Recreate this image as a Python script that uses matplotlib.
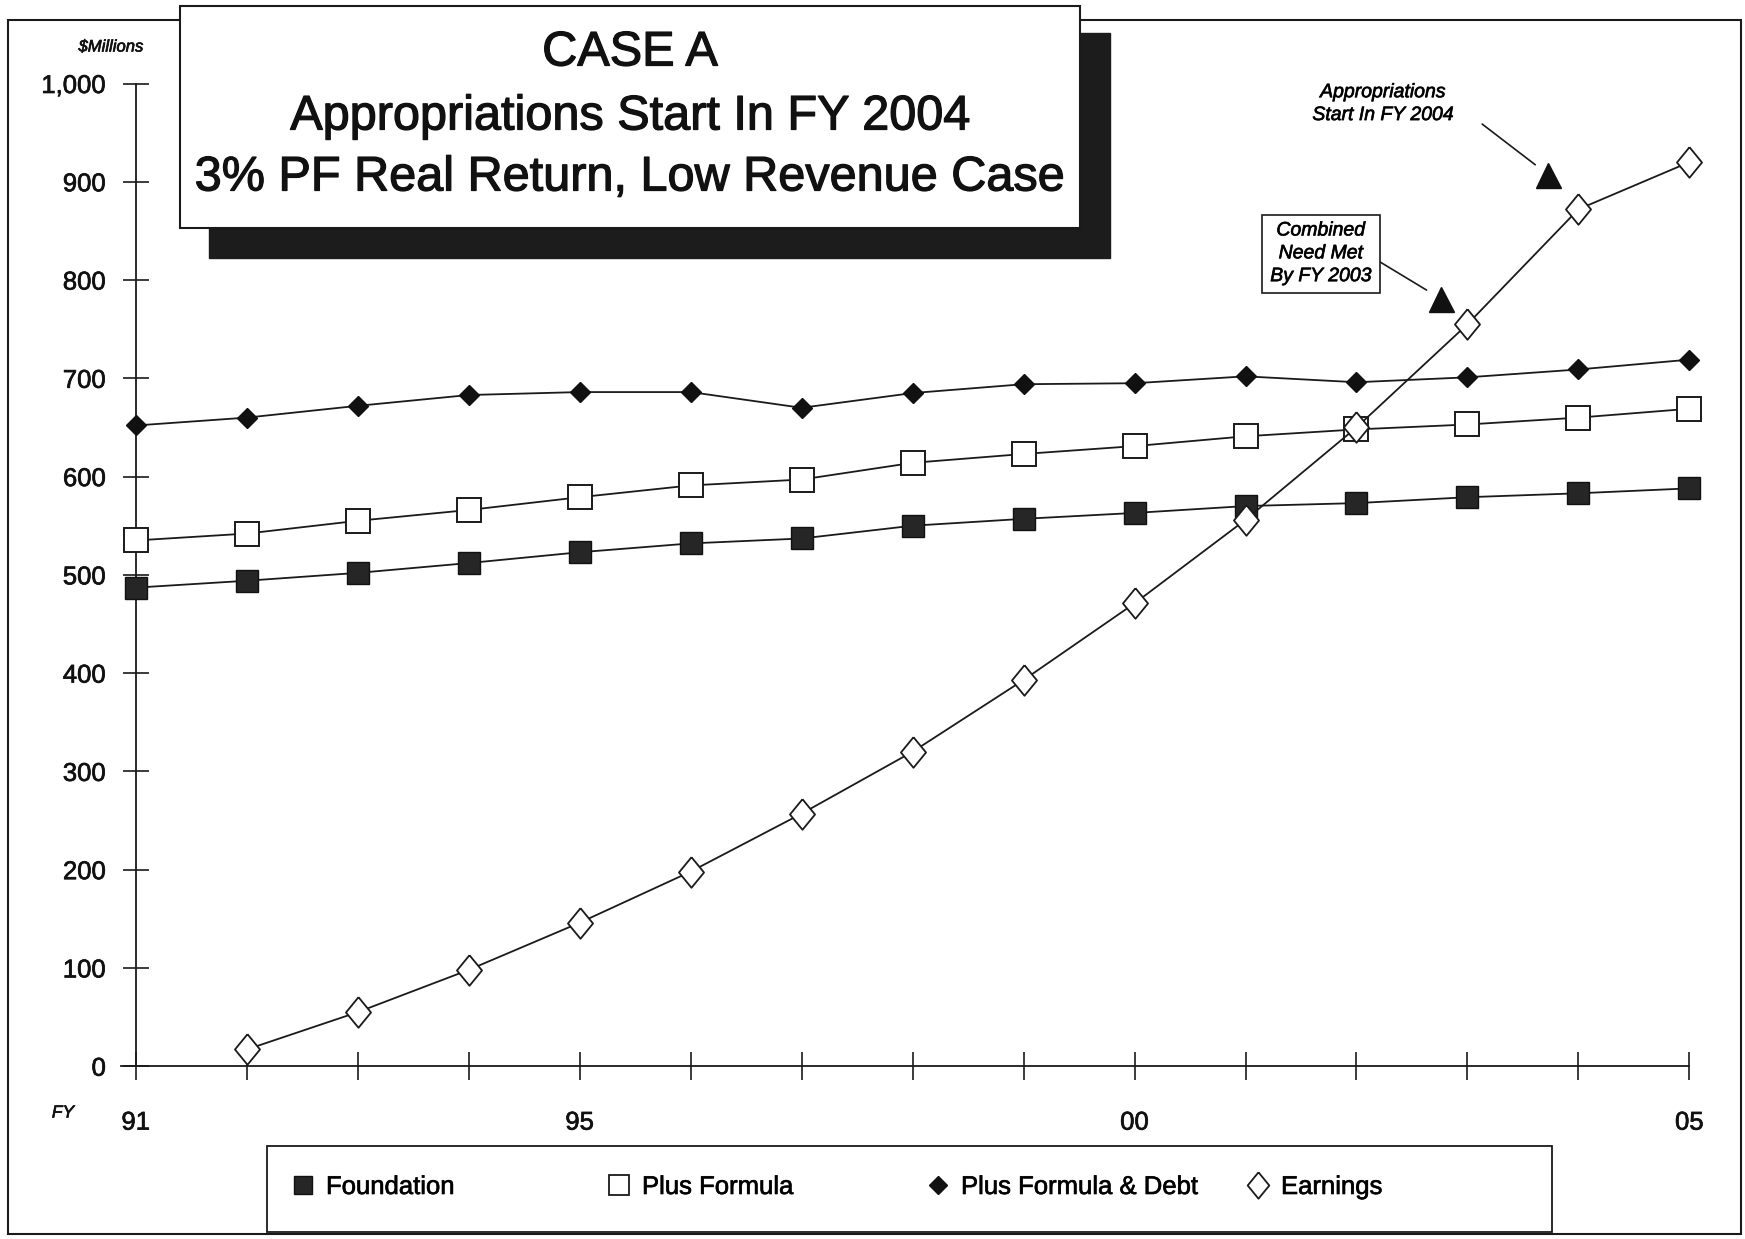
import matplotlib
matplotlib.use("Agg")
import matplotlib.pyplot as plt
from matplotlib.patches import Rectangle
from matplotlib.lines import Line2D
import matplotlib.patheffects as pe

# ---------------- data ----------------
years = [1991, 1992, 1993, 1994, 1995, 1996, 1997, 1998, 1999, 2000, 2001, 2002, 2003, 2004, 2005]
foundation = [487, 494, 502, 512, 523, 532, 537, 550, 557, 563, 570, 573, 579, 583, 588]
plus_formula = [535, 542, 555, 566, 579, 591, 597, 614, 623, 631, 641, 648, 653, 660, 669]
plus_formula_debt = [652, 660, 672, 683, 686, 686, 670, 685, 694, 695, 702, 696, 701, 709, 719]
earnings_years = [1992, 1993, 1994, 1995, 1996, 1997, 1998, 1999, 2000, 2001, 2002, 2003, 2004, 2005]
earnings = [17, 55, 98, 146, 198, 257, 320, 393, 471, 556, 650, 755, 872, 920]

event_years = [2002.76, 2003.73]
event_values = [781, 907]
event_labels = ["Combined\nNeed Met\nBy FY 2003", "Appropriations\nStart In FY 2004"]

xtick_labels = ["91", "", "", "", "95", "", "", "", "", "00", "", "", "", "", "05"]
yticks = [0, 100, 200, 300, 400, 500, 600, 700, 800, 900, 1000]
ytick_labels = ["0", "100", "200", "300", "400", "500", "600", "700", "800", "900", "1,000"]

title_lines = ["CASE A", "Appropriations Start In FY 2004", "3% PF Real Return, Low Revenue Case"]
legend_labels = ["Foundation", "Plus Formula", "Plus Formula & Debt", "Earnings"]

# ---------------- style ----------------
plt.rcParams['font.family'] = ['Liberation Sans', 'DejaVu Sans']
W, H = 1745, 1239
fig = plt.figure(figsize=(W / 100, H / 100), dpi=100)
fig.patch.set_facecolor('white')

def fx(x):
    return x / W

def fy(y):
    return 1 - y / H

thick = [pe.withStroke(linewidth=0.9, foreground='#111111')]
thin = [pe.withStroke(linewidth=0.5, foreground='#111111')]

ax_l, ax_r, ax_t, ax_b = 135.8, 1689.4, 83.5, 1066.2
ax = fig.add_axes([fx(ax_l), fy(ax_b), fx(ax_r - ax_l), (ax_b - ax_t) / H])
ax.set_facecolor('none')

line_kw = dict(color='#1a1a1a', lw=1.3, clip_on=False)
open_diamond = [(0, 1), (0.82, 0), (0, -1), (-0.82, 0), (0, 1)]

ax.plot(years, foundation, marker='s', ms=16, mfc='#262626', mec='#111111', mew=1.0, zorder=3, **line_kw)
ax.plot(years, plus_formula, marker='s', ms=17, mfc='white', mec='#1a1a1a', mew=1.4, zorder=3, **line_kw)
ax.plot(years, plus_formula_debt, marker='D', ms=10.5, mfc='#111111', mec='#111111', mew=1.0, zorder=3, **line_kw)
ax.plot(earnings_years, earnings, marker=open_diamond, ms=22, mfc='white', mec='#1a1a1a', mew=1.3, zorder=4, **line_kw)

ax.plot(event_years, event_values, linestyle='none', marker='^', ms=18, mfc='#111111', mec='#111111',
        zorder=5, clip_on=False)

# annotations
ax.annotate(event_labels[0], xy=(event_years[0], event_values[0]), xytext=(2001.68, 826.7),
            ha='center', va='center', fontsize=14, style='italic', linespacing=1.45,
            bbox=dict(boxstyle='square,pad=0.4', fc='white', ec='#1a1a1a', lw=1.2),
            arrowprops=dict(arrowstyle='-', color='#1a1a1a', lw=1.2, shrinkA=0, shrinkB=12,
                            relpos=(1.0, 0.45)), zorder=6, path_effects=thin)
ax.annotate(event_labels[1], xy=(event_years[1], event_values[1]), xytext=(2002.24, 979),
            ha='center', va='center', fontsize=14, style='italic', linespacing=1.45,
            arrowprops=dict(arrowstyle='-', color='#1a1a1a', lw=1.2, shrinkA=0, shrinkB=12,
                            relpos=(1.2, 0.0)), zorder=6, path_effects=thin)

# axes
ax.set_xlim(1991, 2005)
ax.set_ylim(0, 1000)
for s in ['top', 'right']:
    ax.spines[s].set_visible(False)
for s in ['left', 'bottom']:
    ax.spines[s].set_linewidth(1.3)
    ax.spines[s].set_color('#1a1a1a')
ax.set_xticks(years)
ax.set_xticklabels(xtick_labels)
ax.set_yticks(yticks)
ax.set_yticklabels(ytick_labels)
ax.tick_params(axis='x', direction='inout', length=20, width=1.2, color='#1a1a1a', pad=22, labelsize=18.5)
ax.tick_params(axis='y', direction='inout', length=19, width=1.2, color='#1a1a1a', pad=12, labelsize=18.5)
ax.spines['bottom'].set_bounds(1990.87, 2005)
for lab in ax.get_xticklabels() + ax.get_yticklabels():
    lab.set_color('#111111')
    lab.set_path_effects(thin)

fig.text(fx(111), fy(47), "$Millions", ha='center', va='center', fontsize=12, style='italic',
         color='#111111', path_effects=thin)
fig.text(fx(63), fy(1113), "FY", ha='center', va='center', fontsize=12.5, style='italic',
         color='#111111', path_effects=thin)

# outer frame
fig.add_artist(Rectangle((fx(8), fy(1234)), fx(1741 - 8), (1234 - 20) / H, transform=fig.transFigure,
                         fill=False, ec='#1a1a1a', lw=1.5, zorder=1))

# title box with shadow
fig.add_artist(Rectangle((fx(209), fy(258)), fx(1110 - 209), (258 - 33) / H, transform=fig.transFigure,
                         fc='#1c1c1c', ec='#1c1c1c', lw=1, zorder=8))
fig.add_artist(Rectangle((fx(180), fy(228)), fx(1080 - 180), (228 - 6) / H, transform=fig.transFigure,
                         fc='white', ec='#1a1a1a', lw=1.5, zorder=9))
for txt, yy in zip(title_lines, [53, 117, 178]):
    fig.text(fx(630), fy(yy), txt, ha='center', va='center', fontsize=35, color='#111111', zorder=10,
             path_effects=thick)

# legend box
fig.add_artist(Rectangle((fx(267), fy(1232)), fx(1552 - 267), (1232 - 1146) / H, transform=fig.transFigure,
                         fc='white', ec='#1a1a1a', lw=1.3, zorder=8))
handles = [
    Line2D([], [], linestyle='none', marker='s', ms=13, mfc='#262626', mec='#111111'),
    Line2D([], [], linestyle='none', marker='s', ms=15, mfc='white', mec='#1a1a1a', mew=1.3),
    Line2D([], [], linestyle='none', marker='D', ms=9, mfc='#111111', mec='#111111'),
    Line2D([], [], linestyle='none', marker=open_diamond, ms=19, mfc='white', mec='#1a1a1a', mew=1.3),
]
anchors = [290, 606, 925, 1245]
for h, lab, axp in zip(handles, legend_labels, anchors):
    lg = fig.legend([h], [lab], loc='center left', bbox_to_anchor=(fx(axp), fy(1187)),
                    frameon=False, borderpad=0, borderaxespad=0, handlelength=1.0,
                    handletextpad=0.4, fontsize=18.5)
    lg.set_zorder(10)
    for t in lg.get_texts():
        t.set_path_effects(thin)

fig.savefig("out.png", dpi=100, facecolor='white')
